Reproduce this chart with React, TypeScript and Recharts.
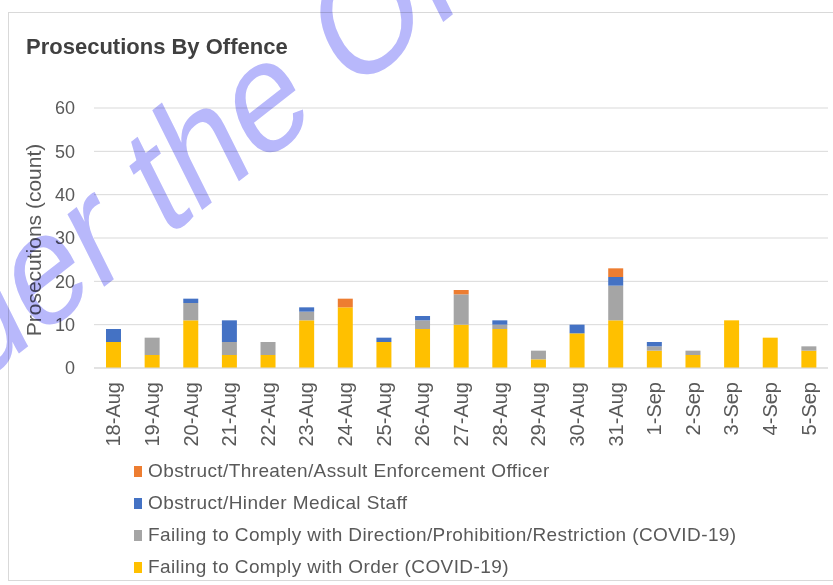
import React from "react"
import { BarChart, Bar, XAxis, YAxis, CartesianGrid, Legend } from "recharts"

const dates = [
  "18-Aug", "19-Aug", "20-Aug", "21-Aug", "22-Aug", "23-Aug", "24-Aug", "25-Aug", "26-Aug", "27-Aug",
  "28-Aug", "29-Aug", "30-Aug", "31-Aug", "1-Sep", "2-Sep", "3-Sep", "4-Sep", "5-Sep",
]
const failOrder = [6, 3, 11, 3, 3, 11, 14, 6, 9, 10, 9, 2, 8, 11, 4, 3, 11, 7, 4]
const failDirection = [0, 4, 4, 3, 3, 2, 0, 0, 2, 7, 1, 2, 0, 8, 1, 1, 0, 0, 1]
const hinderMedical = [3, 0, 1, 5, 0, 1, 0, 1, 1, 0, 1, 0, 2, 2, 1, 0, 0, 0, 0]
const threatenOfficer = [0, 0, 0, 0, 0, 0, 2, 0, 0, 1, 0, 0, 0, 2, 0, 0, 0, 0, 0]
const yTicks = [0, 10, 20, 30, 40, 50, 60]

// stacking order, bottom to top
const SERIES = [
  { key: "order", name: "Failing to Comply with Order (COVID-19)", color: "#FFC000" },
  { key: "direction", name: "Failing to Comply with Direction/Prohibition/Restriction (COVID-19)", color: "#A5A5A5" },
  { key: "medical", name: "Obstruct/Hinder Medical Staff", color: "#4472C4" },
  { key: "officer", name: "Obstruct/Threaten/Assult Enforcement Officer", color: "#ED7D31" },
]

const data = dates.map((date, i) => ({
  date,
  order: failOrder[i],
  direction: failDirection[i],
  medical: hinderMedical[i],
  officer: threatenOfficer[i],
}))

const FONT = "'Liberation Sans', Arial, sans-serif"
const TEXT = "#595959"

const XTick = ({ x, y, payload }: any) => (
  <text
    transform={`translate(${x},${y + 6}) rotate(-90)`}
    textAnchor="end"
    dy="0.35em"
    fontSize={20}
    fill={TEXT}
    fontFamily={FONT}
  >
    {payload.value}
  </text>
)

const YLabel = () => (
  <text
    x={33}
    y={240}
    transform="rotate(-90, 33, 240)"
    textAnchor="middle"
    dominantBaseline="central"
    fontSize={21}
    fill={TEXT}
    fontFamily={FONT}
  >
    Prosecutions (count)
  </text>
)

// legend lists the top series first, like the Excel original
const LegendBox = () => (
  <div style={{ fontFamily: FONT, fontSize: 19, letterSpacing: 0.4, color: TEXT }}>
    {[...SERIES].reverse().map((s) => (
      <div key={s.key} style={{ height: 32, display: "flex", alignItems: "center" }}>
        <span style={{ width: 8, height: 11, background: s.color, marginRight: 6, display: "inline-block" }} />
        {s.name}
      </div>
    ))}
  </div>
)

export default function App() {
  return (
    <div style={{ position: "absolute", left: 0, top: 0, width: 833, height: 585, background: "#fff", overflow: "hidden" }}>
      <div style={{ position: "absolute", left: 8, top: 12, width: 840, height: 567, border: "1px solid #d9d9d9" }} />
      <div
        style={{ position: "absolute", left: 26, top: 34, fontFamily: FONT, fontWeight: "bold", fontSize: 22, color: "#404040" }}
      >
        Prosecutions By Offence
      </div>
      <div style={{ position: "absolute", left: 0, top: 0 }}>
        <BarChart width={833} height={585} data={data} margin={{ top: 108, right: 5, bottom: 0, left: 0 }} barSize={15}>
          <CartesianGrid vertical={false} stroke="#d9d9d9" />
          <XAxis dataKey="date" interval={0} tickLine={false} axisLine={{ stroke: "#d9d9d9" }} tick={<XTick />} height={89} />
          <YAxis
            domain={[0, 60]}
            ticks={yTicks}
            width={94}
            axisLine={false}
            tickLine={false}
            tickSize={0}
            tickMargin={19}
            tick={{ fontSize: 18, fill: TEXT, fontFamily: FONT }}
            label={<YLabel />}
          />
          <Legend
            verticalAlign="bottom"
            content={<LegendBox />}
            wrapperStyle={{ left: 134, top: 455, width: 660 }}
          />
          {SERIES.map((s) => (
            <Bar key={s.key} dataKey={s.key} name={s.name} stackId="a" fill={s.color} isAnimationActive={false} />
          ))}
        </BarChart>
      </div>
      <svg
        width={833}
        height={585}
        style={{ position: "absolute", left: 0, top: 0, pointerEvents: "none", mixBlendMode: "multiply" }}
      >
        <g transform="translate(164,240) scale(1,1.25) rotate(-32)">
          <text x={-954} y={0} fontSize={130} fill="#b8b8fb" fontFamily={FONT}>
            Released under the Official Information Act
          </text>
        </g>
      </svg>
    </div>
  )
}
